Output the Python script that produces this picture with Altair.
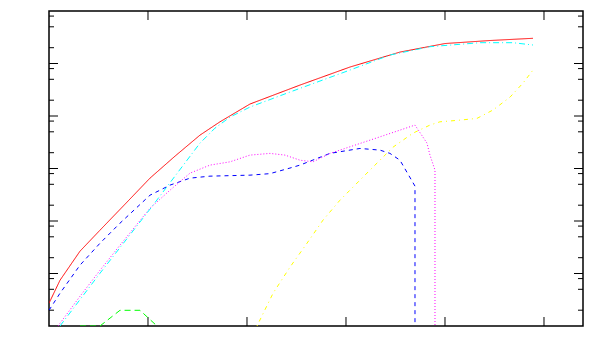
import altair as alt
import pandas as pd

# ---- axis extents (no labels in the reference) ----
X_DOMAIN = [0.0, 5.394]
Y_DOMAIN = [1e-6, 1.0]

x_major = [1, 2, 3, 4, 5]
y_major = [1e-5, 1e-4, 1e-3, 1e-2, 1e-1]
y_minor = [2e-6, 5e-6, 8e-6, 2e-5, 5e-5, 8e-5, 2e-4, 5e-4, 8e-4,
           2e-3, 5e-3, 8e-3, 2e-2, 5e-2, 8e-2, 2e-1, 5e-1, 8e-1]

# ---- series ----
red_x = [0.0, 0.111, 0.313, 0.515, 0.768, 1.020, 1.273, 1.525, 1.727, 2.030,
         2.535, 3.040, 3.545, 4.0, 4.455, 4.889]
red_y = [2.71e-6, 7.43e-6, 2.66e-5, 6.68e-5, 2.09e-4, 6.55e-4, 1.72e-3, 4.32e-3,
         7.75e-3, 1.69e-2, 3.88e-2, 8.56e-2, 0.165, 0.240, 0.274, 0.302]

cyan_x = [0.111, 0.515, 1.020, 1.525, 1.677, 1.828, 2.030, 2.434, 3.040,
          3.444, 3.848, 4.354, 4.687, 4.889]
cyan_y = [1e-6, 1.01e-5, 1.68e-4, 3.04e-3, 5.88e-3, 9.53e-3, 1.48e-2, 2.86e-2,
          7.50e-2, 0.145, 0.209, 0.249, 0.249, 0.225]

magenta_x = [0.091, 0.313, 0.515, 0.717, 1.020, 1.222, 1.424, 1.626, 1.828,
             2.030, 2.232, 2.384, 2.535, 2.667, 2.838, 3.040, 3.343, 3.545,
             3.697, 3.818, 3.848, 3.899, 3.899]
magenta_y = [1e-6, 3.68e-6, 1.15e-5, 3.46e-5, 1.75e-4, 3.86e-4, 8.15e-4,
             1.16e-3, 1.34e-3, 1.80e-3, 1.94e-3, 1.80e-3, 1.44e-3, 1.34e-3,
             1.94e-3, 2.59e-3, 4.01e-3, 5.38e-3, 6.71e-3, 3.04e-3, 1.80e-3,
             9.3e-4, 1e-7]

blue_x = [0.0, 0.111, 0.313, 0.515, 0.717, 1.020, 1.222, 1.424, 1.626, 2.030,
          2.232, 2.434, 2.535, 2.838, 3.141, 3.343, 3.444, 3.545, 3.697, 3.697]
blue_y = [1.99e-6, 4.20e-6, 1.44e-5, 3.77e-5, 9.08e-5, 3.10e-4, 4.82e-4,
          6.55e-4, 7.15e-4, 7.47e-4, 7.98e-4, 1.02e-3, 1.16e-3, 1.94e-3,
          2.41e-3, 2.24e-3, 1.94e-3, 1.44e-3, 4.61e-4, 1e-7]

green_x = [0.313, 0.515, 0.717, 0.919, 1.091]
green_y = [1e-6, 1e-6, 1.99e-6, 1.99e-6, 1e-6]

yellow_x = [2.101, 2.263, 2.434, 2.606, 2.768, 2.939, 3.010, 3.242, 3.475,
            3.677, 3.848, 3.949, 4.152, 4.323, 4.485, 4.657, 4.788, 4.889]
yellow_y = [1e-6, 4.20e-6, 1.32e-5, 3.77e-5, 1.04e-4, 2.49e-4, 3.39e-4,
            9.31e-4, 2.55e-3, 4.72e-3, 6.71e-3, 7.75e-3, 8.35e-3, 9.0e-3,
            1.30e-2, 2.29e-2, 4.24e-2, 7.50e-2]

series = [
    ("red", red_x, red_y, "#ff0000", [1, 0]),
    ("green", green_x, green_y, "#00ff00", [6, 4]),
    ("blue", blue_x, blue_y, "#0000ff", [4, 4]),
    ("magenta", magenta_x, magenta_y, "#ff00ff", [1, 2]),
    ("cyan", cyan_x, cyan_y, "#00ffff", [6, 3, 1, 3]),
    ("yellow", yellow_x, yellow_y, "#ffff00", [1, 4, 4, 4]),
]

W, H = 534, 315
xs = alt.Scale(domain=X_DOMAIN, nice=False, zero=False)
ys = alt.Scale(type="log", domain=Y_DOMAIN, nice=False)

layers = []
for name, sx, sy, col, dash in series:
    df = pd.DataFrame({"x": sx, "y": sy, "i": list(range(len(sx)))})
    layers.append(
        alt.Chart(df).mark_line(color=col, strokeWidth=1, strokeDash=dash, clip=True)
        .encode(
            x=alt.X("x:Q", scale=xs, axis=None),
            y=alt.Y("y:Q", scale=ys, axis=None),
            order=alt.Order("i:Q"),
        )
    )

ymaj = pd.DataFrame({"y": y_major})
ymin = pd.DataFrame({"y": y_minor})
xmaj = pd.DataFrame({"x": x_major})

def yticks(df, x0, x1):
    return alt.Chart(df).mark_rule(color="black", strokeWidth=1).encode(
        y=alt.Y("y:Q", scale=ys, axis=None), x=alt.value(x0), x2=alt.value(x1))

def xticks(df, y0, y1):
    return alt.Chart(df).mark_rule(color="black", strokeWidth=1).encode(
        x=alt.X("x:Q", scale=xs, axis=None), y=alt.value(y0), y2=alt.value(y1))

ticks = [
    yticks(ymaj, 0, 9), yticks(ymin, 0, 5),
    yticks(ymaj, W - 9, W), yticks(ymin, W - 5, W),
    xticks(xmaj, 0, 9), xticks(xmaj, H - 9, H),
]

chart = alt.layer(*ticks, *layers).properties(
    width=W, height=H,
    autosize="none",
    padding={"left": 41, "top": 3, "right": 9, "bottom": 5},
).configure_view(stroke="black", strokeWidth=1.5)

chart.save("out.html", embed_options={"renderer": "svg", "actions": False})
